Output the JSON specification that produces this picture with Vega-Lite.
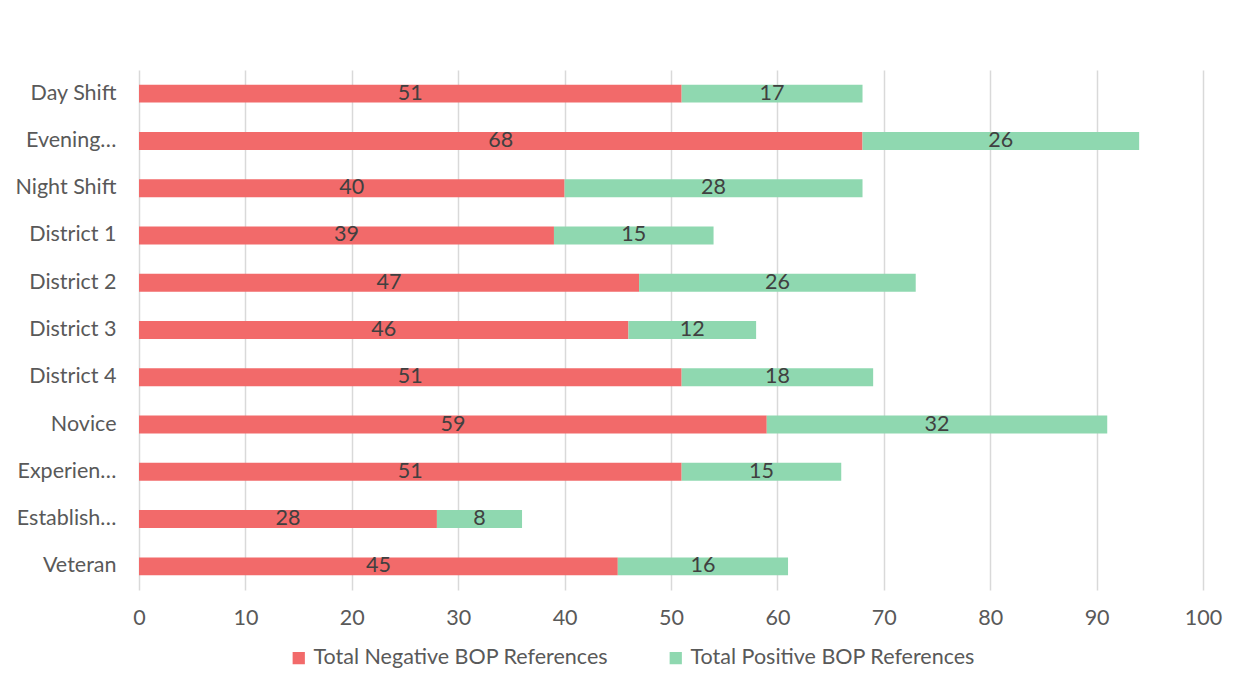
{
  "$schema": "https://vega.github.io/schema/vega-lite/v6.json",
  "width": 1064,
  "height": 520,
  "autosize": {"type": "none"},
  "padding": {"left": 139, "top": 70, "right": 49, "bottom": 101},
  "background": "white",
  "config": {"view": {"stroke": null}, "font": "Lato"},
  "data": {
    "values": [
      {"cat": "Day Shift", "series": "Total Negative BOP References", "value": 51},
      {"cat": "Day Shift", "series": "Total Positive BOP References", "value": 17},
      {"cat": "Evening…", "series": "Total Negative BOP References", "value": 68},
      {"cat": "Evening…", "series": "Total Positive BOP References", "value": 26},
      {"cat": "Night Shift", "series": "Total Negative BOP References", "value": 40},
      {"cat": "Night Shift", "series": "Total Positive BOP References", "value": 28},
      {"cat": "District 1", "series": "Total Negative BOP References", "value": 39},
      {"cat": "District 1", "series": "Total Positive BOP References", "value": 15},
      {"cat": "District 2", "series": "Total Negative BOP References", "value": 47},
      {"cat": "District 2", "series": "Total Positive BOP References", "value": 26},
      {"cat": "District 3", "series": "Total Negative BOP References", "value": 46},
      {"cat": "District 3", "series": "Total Positive BOP References", "value": 12},
      {"cat": "District 4", "series": "Total Negative BOP References", "value": 51},
      {"cat": "District 4", "series": "Total Positive BOP References", "value": 18},
      {"cat": "Novice", "series": "Total Negative BOP References", "value": 59},
      {"cat": "Novice", "series": "Total Positive BOP References", "value": 32},
      {"cat": "Experien…", "series": "Total Negative BOP References", "value": 51},
      {"cat": "Experien…", "series": "Total Positive BOP References", "value": 15},
      {"cat": "Establish…", "series": "Total Negative BOP References", "value": 28},
      {"cat": "Establish…", "series": "Total Positive BOP References", "value": 8},
      {"cat": "Veteran", "series": "Total Negative BOP References", "value": 45},
      {"cat": "Veteran", "series": "Total Positive BOP References", "value": 16}
    ]
  },
  "transform": [
    {"stack": "value", "groupby": ["cat"], "sort": [{"field": "series", "order": "ascending"}], "as": ["x0", "x1"]},
    {"calculate": "(datum.x0 + datum.x1) / 2", "as": "mid"}
  ],
  "encoding": {
    "y": {
      "field": "cat",
      "type": "nominal",
      "sort": null,
      "scale": {"paddingInner": 0.62, "paddingOuter": 0.31},
      "axis": {"title": null, "domain": false, "ticks": false, "labelFontSize": 21.5, "labelColor": "#595959", "labelPadding": 23, "labelLimit": 300}
    }
  },
  "layer": [
    {
      "mark": {"type": "bar"},
      "encoding": {
        "x": {
          "field": "x0",
          "type": "quantitative",
          "scale": {"domain": [0, 100], "nice": false},
          "axis": {"title": null, "values": [0,10,20,30,40,50,60,70,80,90,100], "grid": true, "gridColor": "#d9d9d9", "gridWidth": 1.5, "domain": false, "ticks": false, "labelFlush": false, "labelFontSize": 21.5, "labelColor": "#595959", "labelPadding": 17}
        },
        "x2": {"field": "x1"},
        "color": {
          "field": "series",
          "type": "nominal",
          "scale": {"domain": ["Total Negative BOP References", "Total Positive BOP References"], "range": ["#f26a6a", "#8fd8b0"]},
          "legend": {"title": null, "orient": "none", "legendX": 149, "legendY": 577, "direction": "horizontal", "symbolType": "square", "symbolSize": 150, "symbolStrokeWidth": 0, "labelFontSize": 21.5, "labelColor": "#595959", "columnPadding": 56, "labelOffset": 4, "labelLimit": 400}
        }
      }
    },
    {
      "mark": {"type": "text", "fontSize": 21.5, "color": "#404040", "baseline": "middle"},
      "encoding": {
        "x": {"field": "mid", "type": "quantitative"},
        "text": {"field": "value", "type": "quantitative"}
      }
    }
  ]
}
